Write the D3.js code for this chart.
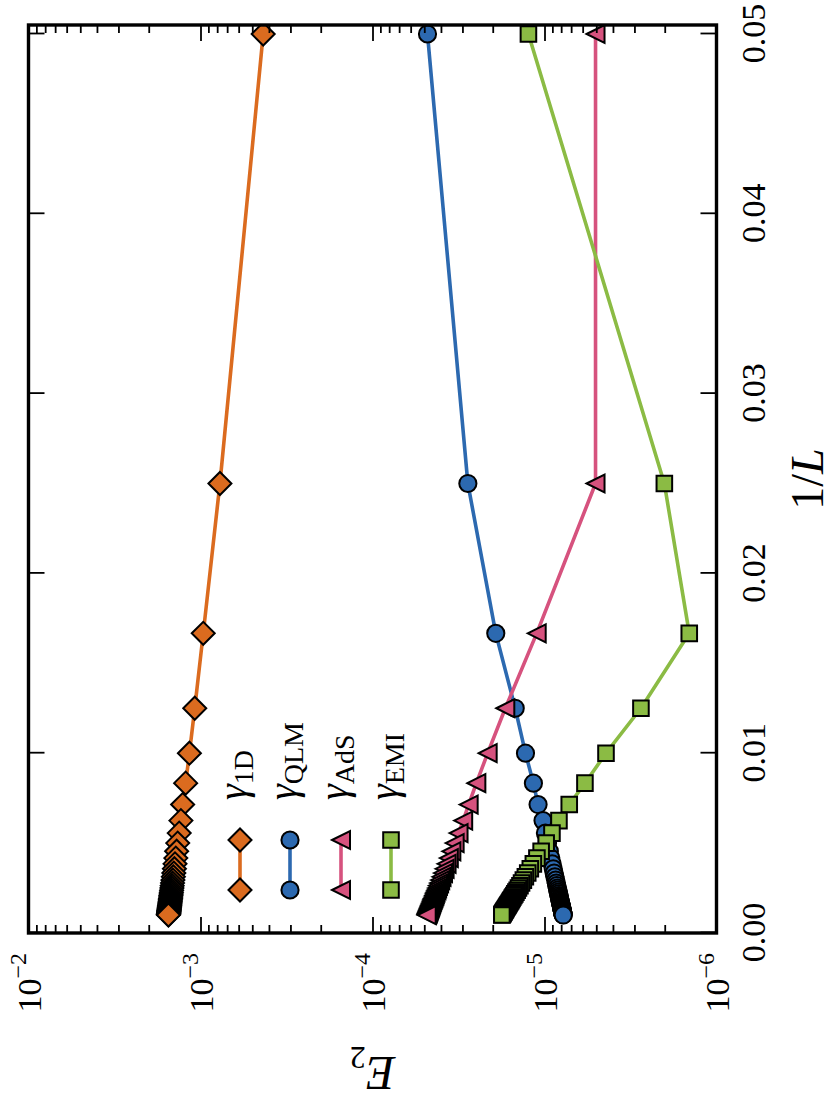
<!DOCTYPE html>
<html><head><meta charset="utf-8">
<script src="https://cdn.jsdelivr.net/npm/d3@7"></script>
<style>body{margin:0;background:#fff}svg{display:block}</style>
</head><body>
<svg id="c" width="834" height="1120"></svg>
<script>
// ---- data ----
const sizes = [20,40,60,80,100,120,140,160,180,200,220,240,260,280,300,320,340,360,380,400,420,440,460,480,500,520,540,560,580,600,620,640,660,680,700,720,740,760,780,800,820,840,860,880,900,920,940,960,980,1000];
const e1D = [4.32e-4,7.71e-4,9.64e-4,1.08e-3,1.16e-3,1.22e-3,1.27e-3,1.30e-3,1.33e-3,
  1.357e-3,1.376e-3,1.392e-3,1.407e-3,1.418e-3,1.429e-3,1.438e-3,1.447e-3,1.454e-3,1.461e-3,
  1.466e-3,1.472e-3,1.477e-3,1.481e-3,1.486e-3,1.489e-3,1.493e-3,1.496e-3,1.499e-3,1.502e-3,
  1.505e-3,1.507e-3,1.510e-3,1.512e-3,1.514e-3,1.516e-3,1.518e-3,1.520e-3,1.521e-3,1.523e-3,
  1.525e-3,1.526e-3,1.527e-3,1.529e-3,1.530e-3,1.531e-3,1.532e-3,1.533e-3,1.534e-3,1.536e-3,1.536e-3];
const eQLM = [4.79e-5,2.79e-5,1.92e-5,1.48e-5,1.29e-5,1.16e-5,1.09e-5,1.02e-5,9.88e-6,
  9.60e-6,9.37e-6,9.19e-6,9.03e-6,8.90e-6,8.79e-6,8.70e-6,8.61e-6,8.54e-6,8.48e-6,
  8.42e-6,8.37e-6,8.32e-6,8.27e-6,8.24e-6,8.20e-6,8.17e-6,8.14e-6,8.11e-6,8.08e-6,
  8.06e-6,8.03e-6,8.01e-6,7.99e-6,7.97e-6,7.96e-6,7.94e-6,7.92e-6,7.91e-6,7.90e-6,
  7.88e-6,7.87e-6,7.86e-6,7.85e-6,7.84e-6,7.83e-6,7.82e-6,7.81e-6,7.80e-6,7.79e-6,7.78e-6];
const eAdS = [5.05e-6,5.05e-6,1.11e-5,1.69e-5,2.14e-5,2.49e-5,2.76e-5,2.97e-5,3.16e-5,
  3.33e-5,3.48e-5,3.60e-5,3.71e-5,3.81e-5,3.89e-5,3.97e-5,4.04e-5,4.10e-5,4.16e-5,
  4.21e-5,4.25e-5,4.30e-5,4.34e-5,4.37e-5,4.41e-5,4.44e-5,4.47e-5,4.50e-5,4.52e-5,
  4.55e-5,4.57e-5,4.59e-5,4.61e-5,4.63e-5,4.65e-5,4.67e-5,4.68e-5,4.70e-5,4.71e-5,
  4.73e-5,4.74e-5,4.75e-5,4.77e-5,4.78e-5,4.79e-5,4.80e-5,4.81e-5,4.82e-5,4.83e-5,4.84e-5];
const eEMI = [1.24e-5,2.01e-6,1.44e-6,2.75e-6,4.39e-6,5.82e-6,7.18e-6,8.24e-6,9.05e-6,
  9.78e-6,1.046e-5,1.107e-5,1.161e-5,1.209e-5,1.252e-5,1.292e-5,1.327e-5,1.360e-5,1.389e-5,
  1.417e-5,1.442e-5,1.466e-5,1.487e-5,1.507e-5,1.526e-5,1.544e-5,1.560e-5,1.575e-5,1.590e-5,
  1.603e-5,1.616e-5,1.628e-5,1.640e-5,1.651e-5,1.661e-5,1.671e-5,1.680e-5,1.689e-5,1.698e-5,
  1.706e-5,1.713e-5,1.721e-5,1.728e-5,1.735e-5,1.741e-5,1.747e-5,1.753e-5,1.759e-5,1.765e-5,1.770e-5];
const seriesNames = ["1D","QLM","AdS","EMI"];
const seriesColors = ["#DB6B1F","#2C69B0","#D6527E","#8BBB44"];
const seriesMarkers = ["diamond","circle","triangle","square"];
const xTicks = [0,0.01,0.02,0.03,0.04,0.05];
const xTickLabels = ["0.00","0.01","0.02","0.03","0.04","0.05"];
const yTicks = [1e-6,1e-5,1e-4,1e-3,1e-2];
const yTickExps = ["\u22126","\u22125","\u22124","\u22123","\u22122"];
const xLabel = "1/L", yLabel = "E";

// ---- layout (drawn in the un-rotated frame, then rotated 90deg CCW) ----
const W = 834, H = 1120;
const U0 = 187, U1 = 1095, V0 = 28.5, V1 = 716.5;
const FONT = '"Liberation Serif","DejaVu Serif",serif';
const svg = d3.select('#c');
svg.append('rect').attr('width',W).attr('height',H).attr('fill','#fff');
const g = svg.append('g').attr('transform',`translate(0,${H}) rotate(-90)`);

const x = d3.scaleLinear().domain([0,0.0505]).range([U0,U1]);
const y = d3.scaleLog().domain([1e-6,1e-2]).range([V1,V0]);

const series = [e1D,eQLM,eAdS,eEMI].map((vals,i)=>({
  name: seriesNames[i], color: seriesColors[i], marker: seriesMarkers[i],
  pts: sizes.map((L,j)=>({t:1/L, e:vals[j]}))
}));

function markerPath(type){
  if(type==='diamond'){const r=11.5;return `M0,${-r}L${r},0L0,${r}L${-r},0Z`;}
  if(type==='triangle'){const r=9;return `M0,${-r}L${r},${r}L${-r},${r}Z`;}
  if(type==='square'){const r=7.8;return `M${-r},${-r}H${r}V${r}H${-r}Z`;}
  const r=8.6;return `M${r},0A${r},${r} 0 1,1 ${-r},0A${r},${r} 0 1,1 ${r},0Z`;
}

const clip = g.append('clipPath').attr('id','pc').append('rect')
  .attr('x',U0).attr('y',V0).attr('width',U1-U0).attr('height',V1-V0);

const line = d3.line().x(d=>x(d.t)).y(d=>y(d.e));
const dataG = g.append('g').attr('clip-path','url(#pc)');
series.forEach(s=>{
  const sg = dataG.append('g');
  sg.append('path').attr('d',line(s.pts)).attr('fill','none')
    .attr('stroke',s.color).attr('stroke-width',3.6).attr('stroke-linejoin','round');
  sg.selectAll('path.m').data(s.pts).join('path').attr('class','m')
    .attr('d',markerPath(s.marker))
    .attr('transform',d=>`translate(${x(d.t)},${y(d.e)})`)
    .attr('fill',s.color).attr('stroke','#000').attr('stroke-width',2);
});

// ---- axes (inward ticks on all sides) ----
function styleAxis(sel){
  sel.select('.domain').remove();
  sel.selectAll('.tick line').attr('stroke','#000').attr('stroke-width',1.8);
  sel.selectAll('text').attr('font-family',FONT).attr('fill','#000');
}
const minorY = y.ticks().filter(v=>Math.abs(Math.log10(v)-Math.round(Math.log10(v)))>1e-6);

g.append('g').attr('transform',`translate(0,${V1})`)
  .call(d3.axisBottom(x).tickValues(xTicks).tickFormat((d,i)=>xTickLabels[i]).tickSize(-16).tickPadding(24))
  .call(styleAxis).selectAll('text').attr('font-size',34);
g.append('g').attr('transform',`translate(0,${V0})`)
  .call(d3.axisTop(x).tickValues(xTicks).tickFormat('').tickSize(-16)).call(styleAxis);

const yl = g.append('g').attr('transform',`translate(${U0},0)`)
  .call(d3.axisLeft(y).tickValues(yTicks).tickFormat('').tickSize(-16).tickPadding(20)).call(styleAxis);
yl.selectAll('.tick text').each(function(d,i){
  const t = d3.select(this).attr('font-size',34).attr('dy','0.36em');
  t.text(null);
  t.append('tspan').text('10');
  t.append('tspan').attr('font-size',24).attr('dy','-0.62em').text(yTickExps[i]);
});
g.append('g').attr('transform',`translate(${U0},0)`)
  .call(d3.axisLeft(y).tickValues(minorY).tickFormat('').tickSize(-8)).call(styleAxis);
g.append('g').attr('transform',`translate(${U1},0)`)
  .call(d3.axisRight(y).tickValues(yTicks).tickFormat('').tickSize(-16)).call(styleAxis);
g.append('g').attr('transform',`translate(${U1},0)`)
  .call(d3.axisRight(y).tickValues(minorY).tickFormat('').tickSize(-8)).call(styleAxis);

g.append('rect').attr('x',U0).attr('y',V0).attr('width',U1-U0).attr('height',V1-V0)
  .attr('fill','none').attr('stroke','#000').attr('stroke-width',3.4);

// axis labels
const xl = g.append('text').attr('x',(U0+U1)/2).attr('y',V1+106).attr('text-anchor','middle')
  .attr('font-family',FONT).attr('font-size',46).attr('fill','#000');
xl.append('tspan').text('1/');
xl.append('tspan').attr('font-style','italic').text('L');

const ylab = g.append('text').attr('transform',`translate(${U0-124},${(V0+V1)/2}) rotate(-90)`)
  .attr('text-anchor','middle').attr('font-family',FONT).attr('font-size',48).attr('fill','#000');
ylab.append('tspan').attr('font-style','italic').text(yLabel);
ylab.append('tspan').attr('font-size',32).attr('dy','0.3em').text('2');

// legend
const legRows = [240,290,341,391];
const legU = [230,280];
series.forEach((s,i)=>{
  const lg = g.append('g');
  const v = legRows[i];
  lg.append('line').attr('x1',legU[0]).attr('x2',legU[1]).attr('y1',v).attr('y2',v)
    .attr('stroke',s.color).attr('stroke-width',3.6);
  legU.forEach(u=>lg.append('path').attr('d',markerPath(s.marker))
    .attr('transform',`translate(${u},${v})`).attr('fill',s.color).attr('stroke','#000').attr('stroke-width',2));
  const tx = lg.append('text').attr('x',320).attr('y',v+6).attr('font-family',FONT)
    .attr('font-size',40).attr('fill','#000');
  tx.append('tspan').attr('font-style','italic').text('\u03B3');
  tx.append('tspan').attr('font-size',28).attr('dy','0.25em').text(s.name);
});
</script>
</body></html>
